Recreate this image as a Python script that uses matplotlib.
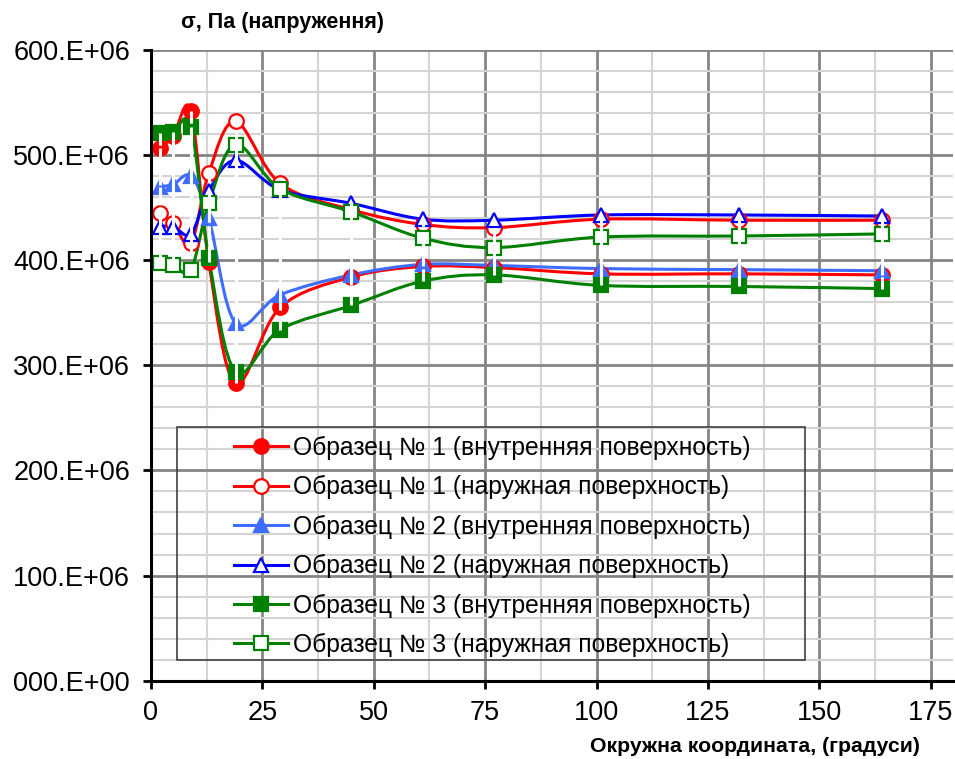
import matplotlib
matplotlib.use('Agg')
import matplotlib.pyplot as plt
from matplotlib.path import Path
from matplotlib.patches import PathPatch, Rectangle
from matplotlib.lines import Line2D
from matplotlib.ticker import MultipleLocator, FuncFormatter

plt.rcParams['font.family'] = ['Liberation Sans', 'DejaVu Sans']

# окружна координата, градуси
angle = [2, 5, 9, 13, 19, 29, 45, 61, 77, 101, 132, 164]

# напруження, МПа
s1_inner = [507, 518, 542, 398, 283, 355, 384, 394, 393, 387, 387, 386]
s1_outer = [445, 435, 416, 483, 532, 473, 448, 434, 431, 439, 438, 438]
s2_inner = [470, 472, 480, 440, 340, 367, 386, 396, 395, 392, 391, 390]
s2_outer = [432, 432, 425, 466, 495, 467, 454, 439, 438, 443, 443, 442]
s3_inner = [521, 522, 527, 402, 294, 334, 357, 380, 386, 376, 375, 373]
s3_outer = [397, 395, 391, 454, 510, 468, 446, 421, 412, 422, 423, 425]

labels = [
    'Образец № 1 (внутренняя поверхность)',
    'Образец № 1 (наружная поверхность)',
    'Образец № 2 (внутренняя поверхность)',
    'Образец № 2 (наружная поверхность)',
    'Образец № 3 (внутренняя поверхность)',
    'Образец № 3 (наружная поверхность)',
]
series = [s1_inner, s1_outer, s2_inner, s2_outer, s3_inner, s3_outer]
colors = ['#ff0000', '#ff0000', '#3d6cff', '#0000ff', '#008000', '#008000']
markers = ['o', 'o', '^', '^', 's', 's']
filled = [True, False, True, False, True, False]


def smooth_path(x, y):
    # згладжена крива як у Excel (кубічні Безьє через точки)
    pts = list(zip(x, y))
    verts = [pts[0]]
    codes = [Path.MOVETO]
    n = len(pts)
    for i in range(n - 1):
        p0 = pts[i - 1] if i > 0 else pts[i]
        p1 = pts[i]
        p2 = pts[i + 1]
        p3 = pts[i + 2] if i + 2 < n else pts[i + 1]
        c1 = (p1[0] + (p2[0] - p0[0]) / 6, p1[1] + (p2[1] - p0[1]) / 6)
        c2 = (p2[0] - (p3[0] - p1[0]) / 6, p2[1] - (p3[1] - p1[1]) / 6)
        verts += [c1, c2, p2]
        codes += [Path.CURVE4] * 3
    return Path(verts, codes)


fig = plt.figure(figsize=(9.55, 7.59), dpi=100)
ax = fig.add_axes([0.158, 0.1032, 0.84, 0.831])

handles = []
for vals, lab, c, m, f in zip(series, labels, colors, markers, filled):
    yv = [v * 1e6 for v in vals]
    ax.add_patch(PathPatch(smooth_path(angle, yv), fill=False, edgecolor=c,
                           lw=2.2, zorder=3))
    ms = 10.5 if m != '^' else 9.5
    ax.plot(angle, yv, ls='none', marker=m, ms=ms, mec=c,
            mfc=c if f else 'white', mew=1.6, zorder=4)
    handles.append(Line2D([], [], color=c, lw=2.2, marker=m, ms=ms, mec=c,
                          mfc=c if f else 'white', mew=1.6))

# білі штрихові відрізки між внутрішньою та зовнішньою поверхнями
for inner, outer in [(s1_inner, s1_outer), (s2_inner, s2_outer), (s3_inner, s3_outer)]:
    for xa, a, b in zip(angle, inner, outer):
        ax.plot([xa, xa], [a * 1e6, b * 1e6], color='white', lw=2.2,
                dashes=(4, 2.5), zorder=5)

ax.set_xlim(0, 180)
ax.set_ylim(0, 600e6)
ax.xaxis.set_major_locator(MultipleLocator(25))
ax.xaxis.set_minor_locator(MultipleLocator(12.5))
ax.yaxis.set_major_locator(MultipleLocator(100e6))
ax.yaxis.set_minor_locator(MultipleLocator(20e6))


def fmt_y(v, pos):
    if v == 0:
        return '000.E+00'
    return '{:d}.E+06'.format(int(round(v / 1e6)))


ax.yaxis.set_major_formatter(FuncFormatter(fmt_y))
ax.grid(which='major', color='#858585', lw=2, zorder=0)
ax.grid(which='minor', color='#d4d4d4', lw=1.5, zorder=0)
ax.set_axisbelow(True)
ax.tick_params(which='major', direction='out', length=6, width=2,
               labelsize=19.5, color='black')
ax.tick_params(axis='y', pad=9)
ax.tick_params(axis='x', pad=8)
ax.tick_params(which='minor', length=0)
for side in ['top', 'right']:
    ax.spines[side].set_visible(False)
for side in ['left', 'bottom']:
    ax.spines[side].set_linewidth(2.2)
    ax.spines[side].set_zorder(6)

ax.add_patch(Rectangle((0.032, 0.033), 0.783, 0.369, transform=ax.transAxes,
                       fill=False, edgecolor='#404040', lw=1.2, zorder=6))
leg = ax.legend(handles, labels, loc='upper left', bbox_to_anchor=(0.103, 0.388),
                frameon=False, fontsize=17.7, handlelength=2.2,
                handletextpad=0.2, labelspacing=0.625, borderpad=0,
                borderaxespad=0)
leg.set_zorder(7)

fig.text(0.296, 0.971, 'σ, Па (напруження)', fontsize=15.5, fontweight='bold',
         ha='center', va='center')
fig.text(0.79, 0.017, 'Окружна координата, (градуси)', fontsize=15.3,
         fontweight='bold', ha='center', va='center')

fig.savefig('out.png', dpi=100)
